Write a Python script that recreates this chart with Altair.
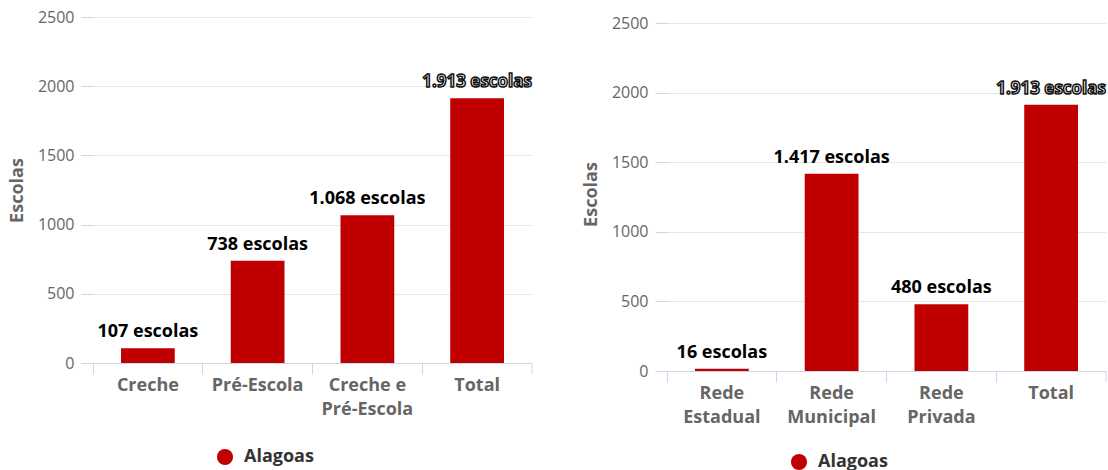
import altair as alt
import pandas as pd

# ---- data ----
etapas = ["Creche", "Pré-Escola", "Creche e\nPré-Escola", "Total"]
etapas_vals = [107, 738, 1068, 1913]
redes = ["Rede\nEstadual", "Rede\nMunicipal", "Rede\nPrivada", "Total"]
redes_vals = [16, 1417, 480, 1913]
serie = "Alagoas"
y_ticks = [0, 500, 1000, 1500, 2000, 2500]

RED = "#c00000"
FONT = "Open Sans"
GREY = "#666666"
AXISBLUE = "#ccd6eb"
W = 439


def fmt(v):
    return f"{v:,}".replace(",", ".") + " escolas"


def panel(cats, vals, height, ymax, legend_y):
    df = pd.DataFrame({
        "cat": cats,
        "v": vals,
        "lbl": [fmt(v) for v in vals],
        "serie": [serie] * len(cats),
    })
    x = alt.X("cat:N", sort=cats,
              scale=alt.Scale(paddingInner=0, paddingOuter=0),
              axis=alt.Axis(title=None, labelAngle=0, bandPosition=0,
                            domainColor=AXISBLUE, tickColor=AXISBLUE, tickSize=11,
                            labelFont=FONT, labelFontSize=18, labelFontWeight="bold",
                            labelColor=GREY, labelPadding=2, labelLineHeight=24,
                            labelExpr="split(datum.label, '\\n')", grid=False))
    y = alt.Y("v:Q",
              scale=alt.Scale(domain=[0, ymax], nice=False, zero=True),
              axis=alt.Axis(values=y_ticks, format="d", title="Escolas", grid=True,
                            gridColor="#e6e6e6", domain=False,
                            tickColor=AXISBLUE, tickSize=12,
                            labelFont=FONT, labelFontSize=16, labelColor=GREY,
                            labelPadding=7, titleFont=FONT, titleFontSize=18,
                            titleFontWeight="bold", titleColor=GREY,
                            titlePadding=11))
    base = alt.Chart(df)
    bars = base.mark_bar(width=alt.RelativeBandSize(0.49)).encode(
        x=x, y=y,
        color=alt.Color("serie:N", scale=alt.Scale(range=[RED]),
                        legend=alt.Legend(orient="none", legendX=123, legendY=legend_y,
                                          title=None, symbolType="circle", symbolSize=260,
                                          symbolStrokeWidth=0, labelFont=FONT,
                                          labelFontSize=18, labelFontWeight="bold",
                                          labelColor="#333333", labelOffset=10,
                                          direction="horizontal")),
    )
    lbl_plain = base.transform_filter("datum.cat != 'Total'").mark_text(
        font=FONT, fontSize=18, fontWeight="bold", color="#000000",
        baseline="bottom", dy=-7,
    ).encode(x=alt.X("cat:N", sort=cats), y="v:Q", text="lbl:N")
    lbl_total = base.transform_filter("datum.cat == 'Total'").mark_text(
        font=FONT, fontSize=17, fontWeight="bold", fill="#ffffff",
        stroke="#111111", strokeWidth=1.5,
        baseline="bottom", dy=-7,
    ).encode(x=alt.X("cat:N", sort=cats), y="v:Q", text="lbl:N")
    end_tick = alt.Chart(df).mark_rule(color=AXISBLUE).encode(
        x=alt.value(W), y=alt.value(height), y2=alt.value(height + 11)
    ).transform_filter("datum.cat == 'Total'")
    return alt.layer(bars, lbl_plain, lbl_total, end_tick).properties(width=W, height=height)


left = panel(etapas, etapas_vals, 346, 2500, 431)
right = panel(redes, redes_vals, 354, 2500 * 354 / 348, 436)

chart = alt.hconcat(left, right, spacing=49).resolve_scale(
    x="independent", y="independent", color="independent"
).resolve_legend(color="independent").properties(
    padding={"left": 8, "top": 9, "right": 0, "bottom": 0}
).configure_view(stroke=None)

chart.save("out.html", embed_options={"renderer": "svg", "actions": False})
